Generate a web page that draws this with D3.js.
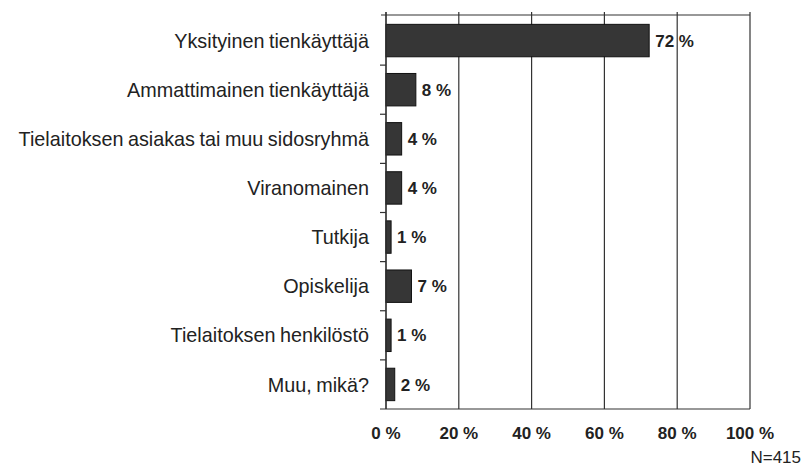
<!DOCTYPE html>
<html>
<head>
<meta charset="utf-8">
<script src="https://cdn.jsdelivr.net/npm/d3@7"></script>
<style>
  body { margin: 0; background: #fff; }
  svg { display: block; font-family: "Liberation Sans", Arial, Helvetica, sans-serif; }
  .grid line { stroke: #333; stroke-width: 1.2; }
  .cat { font-size: 19.8px; fill: #222; word-spacing: -1px; }
  .val { font-size: 17px; font-weight: bold; fill: #222; }
  .tick-label { font-size: 17px; font-weight: bold; fill: #222; }
</style>
</head>
<body>
<div id="chart"></div>
<script>
// Data
const categories = [
    "Yksityinen tienkäyttäjä",
    "Ammattimainen tienkäyttäjä",
    "Tielaitoksen asiakas tai muu sidosryhmä",
    "Viranomainen",
    "Tutkija",
    "Opiskelija",
    "Tielaitoksen henkilöstö",
    "Muu, mikä?"
];
const values = [72.3, 8.2, 4.3, 4.3, 1.4, 7.0, 1.4, 2.4];
const valueLabels = ["72 %", "8 %", "4 %", "4 %", "1 %", "7 %", "1 %", "2 %"];
const xTicks = [0, 20, 40, 60, 80, 100];
const xTickLabels = ["0 %", "20 %", "40 %", "60 %", "80 %", "100 %"];
const note = "N=415";

const width = 811, height = 466;
const plot = {left: 386, right: 750, top: 16, bottom: 409};

const svg = d3.select("#chart")
    .append("svg")
    .attr("width", width)
    .attr("height", height);

const x = d3.scaleLinear()
    .domain([0, 100])
    .range([plot.left, plot.right]);

const y = d3.scaleBand()
    .domain(categories)
    .range([plot.top, plot.bottom])
    .paddingInner(0.34)
    .paddingOuter(0.17);

// vertical grid lines (incl. 100 % edge)
svg.append("g")
    .attr("class", "grid")
    .selectAll("line")
    .data(xTicks)
    .enter()
    .append("line")
    .attr("x1", d => x(d))
    .attr("x2", d => x(d))
    .attr("y1", plot.top - 4)
    .attr("y2", plot.bottom);

// top frame line
svg.append("line")
    .attr("x1", plot.left - 5)
    .attr("x2", plot.right)
    .attr("y1", plot.top - 1)
    .attr("y2", plot.top - 1)
    .style("stroke", "#333")
    .style("stroke-width", 1.2);

// bottom axis line
svg.append("line")
    .attr("x1", plot.left - 6)
    .attr("x2", plot.right)
    .attr("y1", plot.bottom)
    .attr("y2", plot.bottom)
    .style("stroke", "#333")
    .style("stroke-width", 1.2);

// category separator ticks on the left axis
const step = y.step();
const sepY = d3.range(1, categories.length).map(i => y(categories[i]) - (step - y.bandwidth()) / 2);
svg.append("g")
    .selectAll("line")
    .data(sepY)
    .enter()
    .append("line")
    .attr("x1", plot.left - 6)
    .attr("x2", plot.left)
    .attr("y1", d => d)
    .attr("y2", d => d)
    .style("stroke", "#333")
    .style("stroke-width", 1.2);

// bars
svg.append("g")
    .selectAll("rect")
    .data(values)
    .enter()
    .append("rect")
    .attr("x", x(0))
    .attr("y", (d, i) => y(categories[i]))
    .attr("width", d => x(d) - x(0))
    .attr("height", y.bandwidth())
    .style("fill", "#363636")
    .style("stroke", "#111")
    .style("stroke-width", 1);

// value labels
svg.append("g")
    .selectAll("text")
    .data(values)
    .enter()
    .append("text")
    .attr("class", "val")
    .attr("x", d => x(d) + 6)
    .attr("y", (d, i) => y(categories[i]) + y.bandwidth() / 2)
    .attr("dy", "0.36em")
    .text((d, i) => valueLabels[i]);

// category labels
svg.append("g")
    .selectAll("text")
    .data(categories)
    .enter()
    .append("text")
    .attr("class", "cat")
    .attr("x", plot.left - 17)
    .attr("y", d => y(d) + y.bandwidth() / 2)
    .attr("dy", "0.36em")
    .style("text-anchor", "end")
    .text(d => d);

// left axis line
svg.append("line")
    .attr("x1", plot.left)
    .attr("x2", plot.left)
    .attr("y1", plot.top - 4)
    .attr("y2", plot.bottom)
    .style("stroke", "#333")
    .style("stroke-width", 1.2);

// x tick labels
svg.append("g")
    .selectAll("text")
    .data(xTicks)
    .enter()
    .append("text")
    .attr("class", "tick-label")
    .attr("x", d => x(d))
    .attr("y", plot.bottom + 30)
    .style("text-anchor", "middle")
    .text((d, i) => xTickLabels[i]);

// N note
svg.append("text")
    .attr("x", 801)
    .attr("y", 463)
    .style("text-anchor", "end")
    .style("font-size", "17px")
    .style("fill", "#222")
    .text(note);
</script>
</body>
</html>
